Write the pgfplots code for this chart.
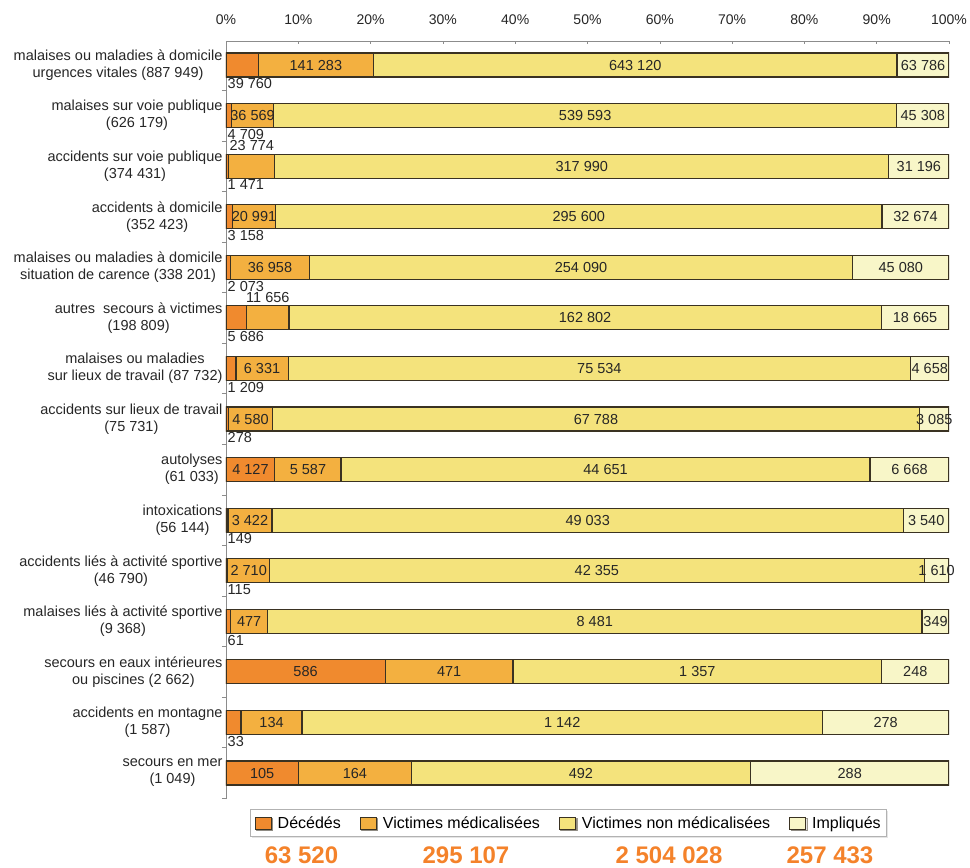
\documentclass[border=0pt]{standalone}
\usepackage{fontspec}
\setmainfont{Liberation Sans}
\usepackage{pgfplots}
\usepackage{pgfplotstable}
\pgfplotsset{compat=1.18}
\usetikzlibrary{shadows}
\definecolor{cD}{HTML}{F08A2E}
\definecolor{cM}{HTML}{F3B040}
\definecolor{cN}{HTML}{F4E37C}
\definecolor{cI}{HTML}{F8F6C8}
\definecolor{bdr}{HTML}{3A3222}
\definecolor{cT}{HTML}{F4822A}
\definecolor{axg}{HTML}{8C8C8C}

\pgfplotstableread{
y d m n i t dp mp
14 39760 141283 643120 63786 887949 1 0
13 4709 36569 539593 45308 626179 1 0
12 1471 23774 317990 31196 374431 1 2
11 3158 20991 295600 32674 352423 1 0
10 2073 36958 254090 45080 338201 1 0
9 5686 11656 162802 18665 198809 1 2
8 1209 6331 75534 4658 87732 1 0
7 278 4580 67788 3085 75731 1 0
6 4127 5587 44651 6668 61033 0 0
5 149 3422 49033 3540 56144 1 0
4 115 2710 42355 1610 46790 1 0
3 61 477 8481 349 9368 1 0
2 586 471 1357 248 2662 0 0
1 33 134 1142 278 1587 1 0
0 105 164 492 288 1049 0 0
}\data

\newcommand\lblfont{\fontsize{14.5}{17}\selectfont}

\begin{document}
\begin{tikzpicture}
\pgfplotsset{
  base/.style={at={(226pt,-41pt)}, anchor=north west, scale only axis,
    width=723pt, height=758pt, xmin=0, xmax=100, ymin=-0.514, ymax=14.475,
    /pgf/number format/assume math mode=true},
  lbl/.style={draw=none, mark=none, nodes near coords,
    /pgf/number format/.cd, fixed, precision=0, 1000 sep={\ }, assume math mode=true, /pgfplots/.cd,
    every node near coord/.append style={font=\lblfont, text=black!85, inner sep=0pt}},
}
\begin{axis}[base,
  xbar stacked, bar width=24pt,
  axis x line=top, axis y line=left,
  axis line style={-, draw=axg, line width=0.8pt},
  xtick={0,10,...,100},
  xticklabel={\pgfmathprintnumber{\tick}\%},
  xticklabel style={font=\fontsize{14}{16}\selectfont, text=black!85, yshift=13pt},
  ytick={0,...,14},
  yticklabels={
    {secours en mer\\(1 049)},
    {accidents en montagne\\(1 587)},
    {secours en eaux intérieures\\ou piscines (2 662)},
    {malaises liés à activité sportive\\(9 368)},
    {accidents liés à activité sportive\\(46 790)},
    {intoxications\\(56 144)},
    {autolyses\\(61 033)},
    {accidents sur lieux de travail\\(75 731)},
    {malaises ou maladies\\sur lieux de travail (87 732)},
    {autres\ \ secours à victimes\\(198 809)},
    {malaises ou maladies à domicile\\situation de carence (338 201)},
    {accidents à domicile\\(352 423)},
    {accidents sur voie publique\\(374 431)},
    {malaises sur voie publique\\(626 179)},
    {malaises ou maladies à domicile\\urgences vitales (887 949)}},
  yticklabel style={align=center, font=\lblfont, text=black!85},
  tick align=inside, major tick length=3pt,
  minor ytick={-0.5,0.5,...,13.5}, minor tick length=4pt,
  every major x tick/.append style={draw=axg, line width=0.6pt},
  every major y tick/.append style={draw=none},
  every minor y tick/.append style={draw=axg, line width=0.6pt, xshift=-4pt},
  legend columns=4,
  legend style={at={(0.474,0)}, anchor=north, yshift=-10pt, draw=gray!60, line width=0.8pt,
    fill=white, font=\fontsize{16}{18}\selectfont, inner xsep=4pt, inner ysep=5pt,
    drop shadow={shadow xshift=1.5pt, shadow yshift=-1.5pt, fill=gray!40},
    /tikz/every odd column/.append style={column sep=4pt},
    /tikz/every even column/.append style={column sep=17pt}},
  legend image code/.code={\draw[#1, line width=1pt] (0pt,-6pt) rectangle (16pt,6pt);},
]
\addplot[fill=cD, draw=bdr, line width=1.2pt] table[x expr=\thisrow{d}/\thisrow{t}*100, y=y]{\data};
\addplot[fill=cM, draw=bdr, line width=1.2pt] table[x expr=\thisrow{m}/\thisrow{t}*100, y=y]{\data};
\addplot[fill=cN, draw=bdr, line width=1.2pt] table[x expr=\thisrow{n}/\thisrow{t}*100, y=y]{\data};
\addplot[fill=cI, draw=bdr, line width=1.2pt] table[x expr=\thisrow{i}/\thisrow{t}*100, y=y]{\data};
\legend{Décédés, Victimes médicalisées, Victimes non médicalisées, Impliqués}
\end{axis}
\begin{axis}[base, hide axis, clip=false]
% Décédés inside
\addplot[lbl, point meta=\thisrow{d}, restrict expr to domain={\thisrow{dp}}{0:0},
  every node near coord/.append style={anchor=center}]
  table[x expr=\thisrow{d}/2/\thisrow{t}*100, y=y]{\data};
% Décédés below
\addplot[lbl, point meta=\thisrow{d}, restrict expr to domain={\thisrow{dp}}{1:1},
  every node near coord/.append style={anchor=north west, xshift=1.5pt, yshift=-13.5pt}]
  table[x expr=0, y=y]{\data};
% Médicalisées inside
\addplot[lbl, point meta=\thisrow{m}, restrict expr to domain={\thisrow{mp}}{0:0},
  every node near coord/.append style={anchor=center}]
  table[x expr=(\thisrow{d}+\thisrow{m}/2)/\thisrow{t}*100, y=y]{\data};
% Médicalisées above
\addplot[lbl, point meta=\thisrow{m}, restrict expr to domain={\thisrow{mp}}{2:2},
  every node near coord/.append style={anchor=south, yshift=15pt}]
  table[x expr=(\thisrow{d}+\thisrow{m}/2)/\thisrow{t}*100, y=y]{\data};
% Non médicalisées
\addplot[lbl, point meta=\thisrow{n},
  every node near coord/.append style={anchor=center}]
  table[x expr=(\thisrow{d}+\thisrow{m}+\thisrow{n}/2)/\thisrow{t}*100, y=y]{\data};
% Impliqués
\addplot[lbl, point meta=\thisrow{i},
  every node near coord/.append style={anchor=center}]
  table[x expr=(\thisrow{t}-\thisrow{i}/2)/\thisrow{t}*100, y=y]{\data};
\end{axis}
\begin{scope}[every node/.style={font=\fontsize{24}{26}\selectfont\bfseries, text=cT, inner sep=1pt}]
\node at (301.5pt,-855pt) {63 520};
\node at (466pt,-855pt) {295 107};
\node at (669pt,-855pt) {2 504 028};
\node at (830pt,-855pt) {257 433};
\end{scope}
\pgfresetboundingbox
\path[use as bounding box] (0,0) rectangle (970pt,-868pt);
\end{tikzpicture}
\end{document}
